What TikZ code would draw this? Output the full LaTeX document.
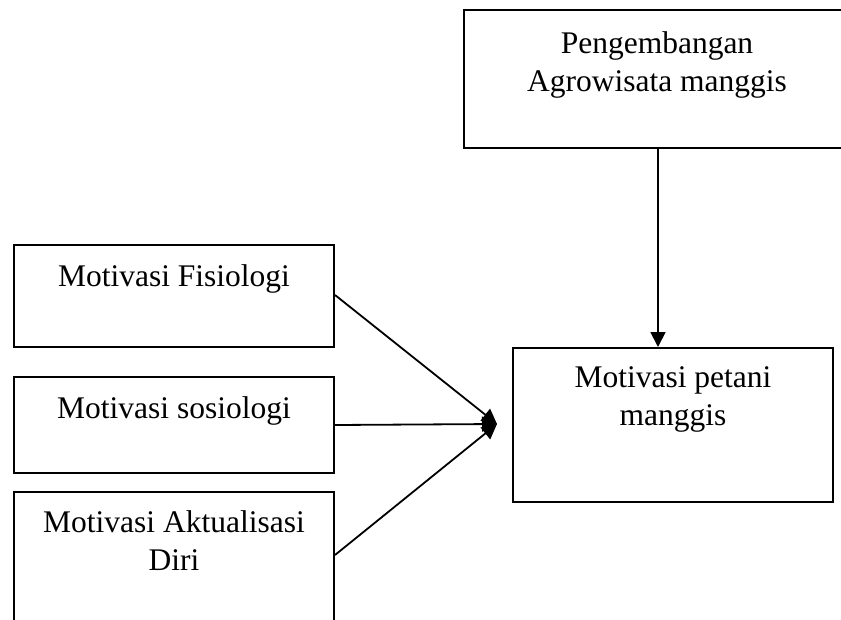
\documentclass[tikz,border=0pt]{standalone}
\usepackage{fontspec}
\setmainfont{Liberation Serif}
\usetikzlibrary{arrows.meta,calc}
\begin{document}
\begin{tikzpicture}[x=1pt,y=-1pt,
  box/.style={draw=black,line width=2pt,rectangle,inner sep=0pt},
  lbl/.style={anchor=base,align=center,inner sep=0pt,
    font=\fontsize{31.5pt}{38pt}\selectfont},
  conn/.style={line width=1.8pt,-{Triangle[length=15pt,width=15pt]}}]
\useasboundingbox (0,0) rectangle (841,619);
\clip (0,0) rectangle (841,619);
% boxes
\node[box,minimum width=386pt,minimum height=138pt] (peng) at (657,79) {};
\node[box,minimum width=320pt,minimum height=154pt] (mot) at (673,425) {};
\node[box,minimum width=320pt,minimum height=102pt] (fis) at (174,296) {};
\node[box,minimum width=320pt,minimum height=96pt] (sos) at (174,425) {};
\node[box,minimum width=320pt,minimum height=150pt] (akt) at (174,567) {};
% labels (base anchor = baseline of the last line)
\node[lbl] (tpeng) at (657,91) {Pengembangan\\Agrowisata manggis};
\node[lbl] (tmot) at (673,425) {Motivasi petani\\manggis};
\node[lbl] (tfis) at (174,286) {Motivasi Fisiologi};
\node[lbl] (tsos) at (174,418) {Motivasi sosiologi};
\node[lbl] (takt) at (174,570) {Motivasi Aktualisasi\\Diri};
% connectors
\coordinate (meet) at (497,424);
\draw[conn] (peng.south -| 658,0) -- (mot.north -| 658,0);
\draw[conn] (fis.east |- 0,295) -- (meet);
\draw[conn] (sos.east |- 0,425) -- (meet);
\draw[conn] (akt.east |- 0,555) -- (meet);
\end{tikzpicture}
\end{document}
